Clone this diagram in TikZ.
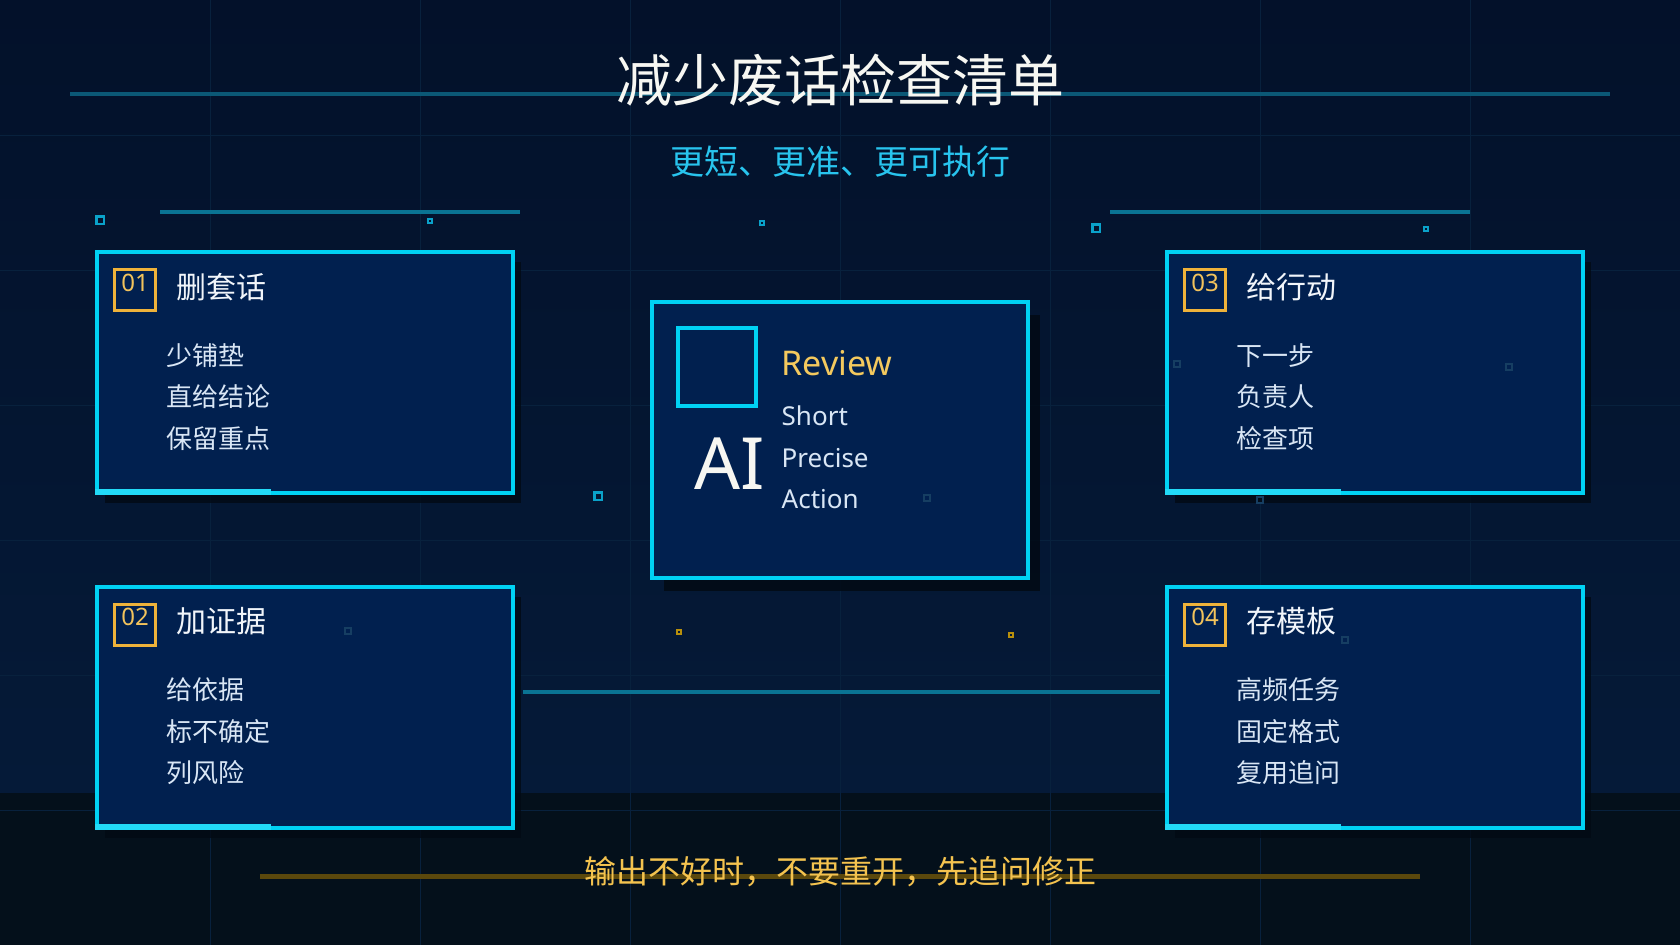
\documentclass[tikz,border=0pt]{standalone}
\usepackage{fontspec}
\setmainfont{Noto Sans CJK SC}
\newfontfamily\latinfont{Noto Sans}
\usepackage{xcolor}
\usepackage{tikz}
\usetikzlibrary{positioning, shadows}

\definecolor{bgtop}{HTML}{03112A}
\definecolor{bgmid}{HTML}{051A38}
\definecolor{bgband}{HTML}{04101B}
\definecolor{gridc}{HTML}{08213D}
\definecolor{cardfill}{HTML}{01204F}
\definecolor{cardline}{HTML}{00D2F4}
\definecolor{accentc}{HTML}{22DAF8}
\definecolor{shadowc}{HTML}{020A14}
\definecolor{badgeline}{HTML}{EEB23A}
\definecolor{numc}{HTML}{F2C35C}
\definecolor{reviewc}{HTML}{F4C95E}
\definecolor{headc}{HTML}{F1F5FA}
\definecolor{itemc}{HTML}{D9E6F5}
\definecolor{titlec}{HTML}{F7F7F2}
\definecolor{subc}{HTML}{28C4EE}
\definecolor{titlerulec}{HTML}{0B5876}
\definecolor{rulec}{HTML}{0A7393}
\definecolor{goldrulec}{HTML}{5B480C}
\definecolor{footc}{HTML}{F4C34F}
\definecolor{dotc}{HTML}{0AA2CA}
\definecolor{goldc}{HTML}{B88F0C}
\definecolor{faintc}{HTML}{163E62}

\begin{document}
\begin{tikzpicture}[
    x=1pt, y=-1pt,
    panel/.style={rectangle, draw=cardline, fill=cardfill, line width=4pt, inner sep=0pt},
    card/.style={panel, minimum width=416pt, minimum height=241pt, drop shadow={shadow xshift=8pt, shadow yshift=-10pt, fill=shadowc, opacity=0.8}},
    aicard/.style={panel, minimum width=376pt, minimum height=276pt, drop shadow={shadow xshift=12pt, shadow yshift=-13pt, fill=shadowc, opacity=0.85}},
    badge/.style={rectangle, draw=badgeline, line width=3pt, minimum size=41pt, inner sep=0pt},
    numtext/.style={font=\latinfont\fontsize{24}{24}\selectfont, text=numc, inner sep=0pt},
    headtext/.style={font=\fontsize{30}{30}\selectfont, text=headc, inner sep=0pt},
    itemtext/.style={font=\fontsize{26}{41.5}\selectfont, text=itemc, align=left, inner sep=0pt},
    innersq/.style={rectangle, draw=cardline, line width=3.5pt, minimum size=78pt, inner sep=0pt},
    aitext/.style={font=\latinfont\fontsize{72}{72}\selectfont, text=titlec, inner sep=0pt},
    reviewtext/.style={font=\latinfont\fontsize{34}{34}\selectfont, text=reviewc, inner sep=0pt},
    wordtext/.style={font=\latinfont\fontsize{26}{41.5}\selectfont, text=itemc, align=left, inner sep=0pt},
    titletext/.style={font=\fontsize{56}{56}\selectfont, text=titlec, inner sep=0pt},
    subtext/.style={font=\fontsize{34}{34}\selectfont, text=subc, inner sep=0pt},
    foottext/.style={font=\fontsize{32}{32}\selectfont, text=footc, inner sep=0pt},
    grid/.style={draw=gridc, line width=1pt},
    rule/.style={draw=rulec, line width=4pt},
    titlerule/.style={draw=titlerulec, line width=4pt},
    goldrule/.style={draw=goldrulec, line width=5pt},
    dotbig/.style={rectangle, draw=dotc, line width=2.5pt, minimum size=7.5pt, inner sep=0pt},
    dotsmall/.style={rectangle, draw=dotc, line width=2pt, minimum size=4pt, inner sep=0pt},
    dotgold/.style={rectangle, draw=goldc, line width=1.8pt, minimum size=4pt, inner sep=0pt},
    dotfaint/.style={rectangle, draw=faintc, line width=1.5pt, minimum size=6pt, inner sep=0pt}
]

% Background and grid
\useasboundingbox (0,0) rectangle (1680,945);
\shade[top color=bgtop, bottom color=bgmid] (0,0) rectangle (1680,793);
\fill[bgband] (0,793) rectangle (1680,945);
\foreach \gx in {210,420,...,1470}
    \draw[grid] (\gx,0) -- (\gx,945);
\foreach \gy in {135,270,...,810}
    \draw[grid] (0,\gy) -- (1680,\gy);

% Decorative rules
\draw[titlerule] (70,94) -- (1610,94);
\draw[rule] (160,212) -- (520,212);
\draw[rule] (1110,212) -- (1470,212);
\draw[rule] (523,692) -- (1160,692);
\draw[goldrule] (260,876) -- (1420,876);

% Small squares
\foreach \px/\py [count=\k] in {100/220, 1096/228, 598/496}
    \node[dotbig] (db\k) at (\px,\py) {};
\foreach \px/\py [count=\k] in {430/221, 762/223, 1426/229}
    \node[dotsmall] (ds\k) at (\px,\py) {};
\foreach \px/\py [count=\k] in {679/632, 1011/635}
    \node[dotgold] (dg\k) at (\px,\py) {};

% Cards
\node[card] (c1) at (305,372.5) {};
\node[card] (c2) at (305,707) {};
\node[card] (c3) at (1375,372.5) {};
\node[card] (c4) at (1375,707) {};
\foreach \c in {c1,c2,c3,c4}
    \fill[accentc] (\c.south west) rectangle ++(176pt,6pt);

% Card 01
\node[badge, below right=18pt and 18pt of c1.north west] (b1) {};
\node[numtext, anchor=base] (n1) at ([yshift=-23pt]b1.north) {01};
\node[headtext, right=19pt of b1, yshift=3pt] (h1) {删套话};
\node[itemtext, below right=93pt and 71pt of c1.north west] (l1) {少铺垫\\直给结论\\保留重点};

% Card 02
\node[badge, below right=18pt and 18pt of c2.north west] (b2) {};
\node[numtext, anchor=base] (n2) at ([yshift=-23pt]b2.north) {02};
\node[headtext, right=19pt of b2, yshift=3pt] (h2) {加证据};
\node[itemtext, below right=93pt and 71pt of c2.north west] (l2) {给依据\\标不确定\\列风险};

% Card 03
\node[badge, below right=18pt and 18pt of c3.north west] (b3) {};
\node[numtext, anchor=base] (n3) at ([yshift=-23pt]b3.north) {03};
\node[headtext, right=19pt of b3, yshift=3pt] (h3) {给行动};
\node[itemtext, below right=93pt and 71pt of c3.north west] (l3) {下一步\\负责人\\检查项};

% Card 04
\node[badge, below right=18pt and 18pt of c4.north west] (b4) {};
\node[numtext, anchor=base] (n4) at ([yshift=-23pt]b4.north) {04};
\node[headtext, right=19pt of b4, yshift=3pt] (h4) {存模板};
\node[itemtext, below right=93pt and 71pt of c4.north west] (l4) {高频任务\\固定格式\\复用追问};

% Center AI card
\node[aicard] (ai) at (840,440) {};
\node[innersq, below right=26pt and 26pt of ai.north west] (sq) {};
\node[aitext, below right=30pt and 18pt of sq.south west] (ailogo) {AI};
\node[reviewtext, below right=24pt and 24pt of sq.north east] (rv) {Review};
\node[wordtext, below right=30pt and 0pt of rv.south west] (wd) {Short\\Precise\\Action};

% Faint squares over the panels
\foreach \px/\py [count=\k] in {348/631, 927/498, 1177/364, 1509/367, 1345/640, 1260/500}
    \node[dotfaint] (df\k) at (\px,\py) {};

% Title, subtitle, footer
\node[titletext] (title) at (840,80) {减少废话检查清单};
\node[subtext] (subtitle) at (840,162) {更短、更准、更可执行};
\node[foottext] (footer) at (840,872) {输出不好时，不要重开，先追问修正};

\end{tikzpicture}
\end{document}
